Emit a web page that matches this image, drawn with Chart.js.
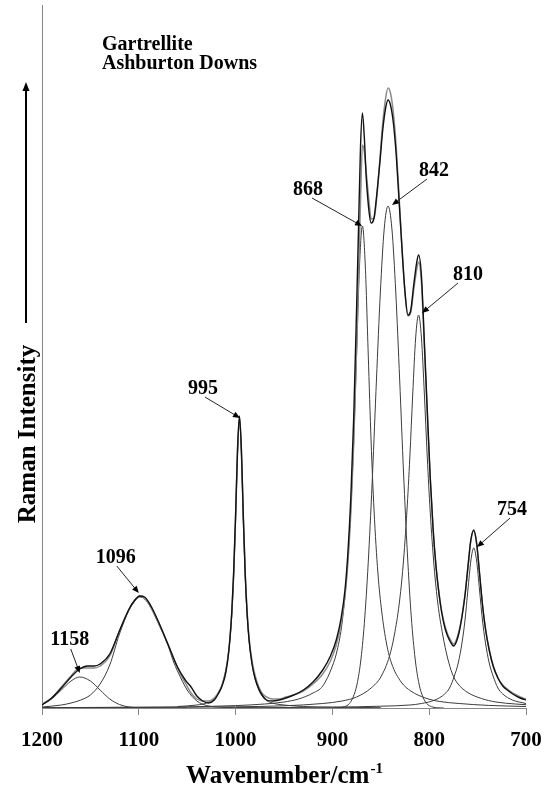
<!DOCTYPE html>
<html>
<head>
<meta charset="utf-8">
<script src="https://cdn.jsdelivr.net/npm/chart.js@4.4.1/dist/chart.umd.min.js"></script>
<style>
  html, body { margin: 0; padding: 0; background: #fff; }
  #chart { display: block; }
</style>
</head>
<body>
<canvas id="chart" width="550" height="798"></canvas>
<script>
// measured spectrum and fitted envelope share one wavenumber grid
const wavenumbers = [1200, 1190, 1180, 1170, 1161, 1153, 1146, 1140, 1130, 1120, 1110, 1104, 1099, 1094, 1088, 1080, 1070, 1060, 1052, 1046,
  1040, 1034, 1028, 1022, 1018, 1014, 1010, 1007, 1004, 1002, 1000, 998, 996, 994, 992, 990, 988, 986, 983, 980,
  976, 972, 968, 962, 955, 948, 940, 930, 920, 910, 902, 896, 891, 887, 884, 881, 878, 875, 873, 871,
  869, 867, 865, 862, 860, 857, 854, 851, 848, 845, 842.5, 840, 837, 834, 831, 828, 825, 822, 819, 816,
  813, 811, 808, 805, 802, 799, 796, 793, 790, 787, 784, 781, 778, 775, 772, 769, 766, 763, 760, 757,
  754, 751, 748, 745, 742, 738, 734, 729, 724, 718, 712, 706, 700];

const observed = [3, 10, 20, 31, 39, 42, 42, 44, 54, 77, 99, 108, 112, 111, 103, 87, 64, 41, 28, 21,
  12, 7, 5, 8, 14, 22, 36, 57, 95, 136, 193, 259, 292, 258, 190, 132, 93, 67, 44, 30,
  19, 12, 8, 7, 8, 10, 13, 18, 26, 38, 52, 68, 90, 118, 155, 210, 290, 400, 480, 560,
  595, 570, 530, 495, 485, 490, 515, 545, 578, 600, 608, 603, 585, 552, 505, 458, 416, 393, 398, 423,
  445, 453, 432, 366, 298, 232, 180, 142, 115, 95, 81, 72, 66, 62, 66, 76, 92, 113, 141, 168,
  178, 165, 135, 104, 80, 58, 42, 30, 22, 17, 13, 10, 8];

const fitted = [4, 10, 21, 32, 40, 40, 40, 42, 52, 77, 99, 108, 112, 110, 102, 86, 64, 40, 25, 15,
  9, 7, 7, 10, 15, 23, 38, 58, 95, 134, 191, 257, 291, 257, 191, 134, 95, 70, 47, 33,
  21, 14, 11, 9, 9, 11, 13, 17, 24, 34, 47, 63, 85, 112, 145, 195, 265, 360, 430, 505,
  563, 556, 535, 505, 489, 490, 512, 548, 585, 610, 620, 615, 595, 560, 510, 458, 415, 392, 396, 418,
  438, 446, 425, 362, 295, 230, 178, 142, 116, 96, 83, 74, 68, 64, 68, 78, 93, 113, 140, 167,
  177, 164, 134, 103, 80, 58, 43, 30, 23, 18, 14, 11, 9];

// component bands of the fit
const band1158X = [1200, 1190, 1180, 1170, 1161, 1150, 1140, 1130, 1120, 1110, 1100, 1080, 1050];
const band1158Y = [3, 9, 18, 27, 31, 27, 18, 9, 3.5, 1, 0.3, 0, 0];

const band1096X = [1200, 1180, 1170, 1160, 1150, 1140, 1130, 1120, 1110, 1104, 1099, 1094, 1088, 1080, 1070, 1064, 1060, 1050, 1040, 1030, 1020, 1000, 980];
const band1096Y = [1, 3, 5, 8, 13, 24, 43, 74, 98, 107, 111, 109, 101, 85, 63, 46, 37, 18, 7, 2.5, 1, 0.3, 0];

const band995X = [1060, 1040, 1030, 1022, 1016, 1012, 1009, 1006, 1004, 1002, 1000, 998, 996, 994, 992, 990, 988, 986, 983, 980, 976, 970, 962, 950, 930, 900, 850];
const band995Y = [1.5, 3, 5, 9, 18, 30, 44, 67, 92, 131, 188, 254, 288, 254, 188, 131, 92, 67, 44, 30, 18, 9, 5, 3, 1.5, 0.8, 0.3];

const band868X = [1200, 1100, 1050, 1000, 970, 950, 935, 920, 910, 900, 895, 890, 885, 881, 878, 875, 872, 869, 866, 863, 860, 857, 853, 849, 844, 839, 829, 819, 804, 789, 769, 739, 700];
const band868Y = [0.3, 0.8, 1.2, 2.4, 4, 6, 9, 15, 22, 42, 58, 85, 135, 198, 266, 354, 442, 482, 442, 354, 266, 198, 135, 96, 64, 45, 26, 17, 10, 6.5, 4.5, 2.6, 1.5];

const band842X = [900, 892.5, 887.5, 882.5, 878.5, 874.5, 870.5, 866.5, 862.5, 858.5, 854.5, 850.5, 846.5, 842.5, 838.5, 834.5, 830.5, 826.5, 822.5, 818.5, 814.5, 810.5, 806.5, 802.5, 797.5, 792.5, 785];
const band842Y = [0, 0.3, 1.3, 4.4, 11, 24, 49, 91, 154, 235, 328, 415, 479, 502, 479, 415, 328, 235, 154, 91, 49, 24, 11, 4.4, 1.3, 0.3, 0];

const band810X = [1200, 1100, 1000, 950, 910, 890, 875, 860, 850, 841, 836, 831, 827, 823, 820, 817, 814, 811, 808, 805, 802, 799, 795, 791, 786, 781, 776, 771, 761, 746, 731, 711, 700];
const band810Y = [0.3, 0.6, 1.2, 2.2, 4.5, 7, 11, 20, 31, 52, 73, 104, 142, 197, 251, 314, 370, 393, 370, 314, 251, 197, 142, 104, 73, 50, 34, 25, 16, 9.5, 6, 4, 3.3];

const band754X = [1000, 900, 850, 820, 808, 794, 784, 779, 774, 770, 766, 763, 760, 757, 754, 751, 748, 745, 742, 738, 734, 729, 724, 714, 700];
const band754Y = [0.3, 0.8, 1.8, 3, 4.5, 8, 14, 20, 32, 45, 66, 88, 118, 147, 160, 147, 118, 88, 66, 45, 32, 20, 14, 8, 4.5];

const xTicks = [1200, 1100, 1000, 900, 800, 700];

// peak labels and where their arrows point (wavenumber, intensity)
const peakLabels = ['1158', '1096', '995', '868', '842', '810', '754'];
const peakWn = [1161, 1100, 995.5, 869.4, 838.4, 807.4, 750.6];
const peakY = [35, 115, 290, 482, 503, 395, 161];

// pixel offsets of label centre and arrow tail from the arrow tip
const labelOffsets = [[-10, -33], [-23, -35], [-37, -29], [-54, -36], [42, -34], [46, -38], [35, -37]];
const tailOffsets = [[-9, -24], [-22, -27], [-35, -21], [-50, -28], [35, -26], [36, -30], [33, -29]];

const serif = "'Liberation Serif', 'Times New Roman', serif";

function pts(xs, ys) {
  return xs.map((x, i) => ({ x: x, y: ys[i] }));
}

function line(data, color, width) {
  return {
    data: data,
    borderColor: color,
    borderWidth: width,
    pointRadius: 0,
    fill: false,
    cubicInterpolationMode: 'monotone'
  };
}

function arrow(ctx, x1, y1, x2, y2, len, half) {
  const a = Math.atan2(y2 - y1, x2 - x1);
  ctx.beginPath();
  ctx.moveTo(x1, y1);
  ctx.lineTo(x2 - Math.cos(a) * len * 0.6, y2 - Math.sin(a) * len * 0.6);
  ctx.stroke();
  ctx.beginPath();
  ctx.moveTo(x2, y2);
  ctx.lineTo(x2 - Math.cos(a) * len - Math.sin(a) * half, y2 - Math.sin(a) * len + Math.cos(a) * half);
  ctx.lineTo(x2 - Math.cos(a) * len + Math.sin(a) * half, y2 - Math.sin(a) * len - Math.cos(a) * half);
  ctx.closePath();
  ctx.fill();
}

const decorations = {
  id: 'decorations',
  afterDraw(chart) {
    const ctx = chart.ctx;
    const xs = chart.scales.x, ys = chart.scales.y;
    ctx.save();
    ctx.fillStyle = '#000';
    ctx.strokeStyle = '#000';

    // sample title
    ctx.font = 'bold 20px ' + serif;
    ctx.textAlign = 'left';
    ctx.textBaseline = 'alphabetic';
    ctx.fillText('Gartrellite', 102, 50);
    ctx.fillText('Ashburton Downs', 102, 69);

    // y axis title with arrow
    ctx.save();
    ctx.translate(35, 434);
    ctx.rotate(-Math.PI / 2);
    ctx.font = 'bold 25px ' + serif;
    ctx.textAlign = 'center';
    ctx.fillText('Raman Intensity', 0, 0);
    ctx.restore();
    ctx.lineWidth = 2;
    arrow(ctx, 26, 323, 26, 82, 9, 3.5);

    // x axis title with superscript
    const main = 'Wavenumber/cm';
    const sup = '-1';
    ctx.font = 'bold 25px ' + serif;
    const w1 = ctx.measureText(main).width;
    ctx.font = 'bold 15px ' + serif;
    const w2 = ctx.measureText(sup).width;
    const x0 = (chart.chartArea.left + chart.chartArea.right) / 2 - (w1 + w2) / 2;
    ctx.font = 'bold 25px ' + serif;
    ctx.textAlign = 'left';
    ctx.fillText(main, x0, 783);
    ctx.font = 'bold 15px ' + serif;
    ctx.fillText(sup, x0 + w1 + 1, 773);

    // peak annotations
    ctx.font = 'bold 20px ' + serif;
    ctx.textAlign = 'center';
    ctx.textBaseline = 'middle';
    ctx.lineWidth = 1;
    ctx.strokeStyle = '#222';
    ctx.fillStyle = '#000';
    peakLabels.forEach((lab, i) => {
      const tx = xs.getPixelForValue(peakWn[i]);
      const ty = ys.getPixelForValue(peakY[i]);
      arrow(ctx, tx + tailOffsets[i][0], ty + tailOffsets[i][1], tx, ty, 7, 3);
      ctx.fillText(lab, tx + labelOffsets[i][0], ty + labelOffsets[i][1]);
    });
    ctx.restore();
  }
};

const bandColor = '#3c3c3c';

new Chart(document.getElementById('chart'), {
  type: 'line',
  data: {
    datasets: [
      line(pts(wavenumbers, observed), '#111111', 1.4),
      line(pts(wavenumbers, fitted), '#8c8c8c', 1.5),
      line(pts(band1158X, band1158Y), bandColor, 1),
      line(pts(band1096X, band1096Y), bandColor, 1),
      line(pts(band995X, band995Y), bandColor, 1),
      line(pts(band868X, band868Y), bandColor, 1),
      line(pts(band842X, band842Y), bandColor, 1),
      line(pts(band810X, band810Y), bandColor, 1),
      line(pts(band754X, band754Y), bandColor, 1)
    ]
  },
  options: {
    responsive: false,
    animation: false,
    devicePixelRatio: 1,
    layout: { padding: { top: 5, right: 24, left: 0, bottom: 0 } },
    scales: {
      x: {
        type: 'linear',
        min: 700,
        max: 1200,
        reverse: true,
        afterFit: (s) => { s.height = 90; s.paddingLeft = 0; s.paddingRight = 0; },
        afterBuildTicks: (s) => { s.ticks = xTicks.map(v => ({ value: v })); },
        ticks: {
          color: '#000',
          padding: 13,
          maxRotation: 0,
          callback: (v) => String(v),
          font: { family: serif, size: 21, weight: 'bold' }
        },
        grid: { drawOnChartArea: false, drawTicks: true, tickLength: 7, color: '#888' },
        border: { color: '#888', width: 1 }
      },
      y: {
        min: 0,
        max: 703,
        afterFit: (s) => { s.width = 42; },
        ticks: { display: false },
        grid: { drawOnChartArea: false, drawTicks: false, color: '#888' },
        border: { color: '#888', width: 1 }
      }
    },
    plugins: {
      legend: { display: false },
      tooltip: { enabled: false }
    }
  },
  plugins: [decorations]
});
</script>
</body>
</html>
